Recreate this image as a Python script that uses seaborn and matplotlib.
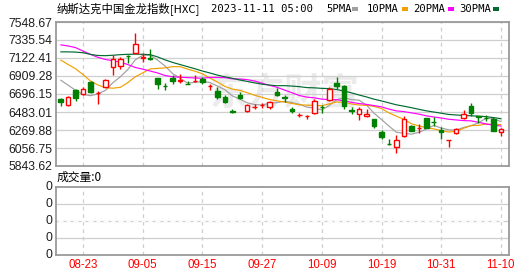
import numpy as np
import pandas as pd
import matplotlib
matplotlib.use("Agg")
import matplotlib.pyplot as plt
from matplotlib.patches import Rectangle
import seaborn as sns

# ---------------- data ----------------
dates = ["08-18", "08-21", "08-22", "08-23", "08-24", "08-25", "08-28", "08-29", "08-30", "08-31",
         "09-01", "09-05", "09-06", "09-07", "09-08", "09-11", "09-12", "09-13", "09-14", "09-15",
         "09-18", "09-19", "09-20", "09-21", "09-22", "09-25", "09-26", "09-27", "09-28", "09-29",
         "10-02", "10-03", "10-04", "10-05", "10-06", "10-09", "10-10", "10-11", "10-12", "10-13",
         "10-16", "10-17", "10-18", "10-19", "10-20", "10-23", "10-24", "10-25", "10-26", "10-27",
         "10-30", "10-31", "11-01", "11-02", "11-03", "11-06", "11-07", "11-08", "11-09", "11-10"]

opens = [6637, 6562, 6740, 6693, 6835, 6705, 6783, 7012, 7028, 7150,
         7185, 7126, 7126, 6886, 6790, 6886, 6846, 6820, 6850, 6874,
         6785, 6735, 6657, 6489, 6684, 6495, 6544, 6567, 6539, 6716,
         6657, 6522, 6446, 6434, 6468, 6548, 6625, 6830, 6791, 6501,
         6463, 6436, 6400, 6246, 6110, 6072, 6199, 6317, 6295, 6409,
         6367, 6270, 6146, 6234, 6412, 6554, 6430, 6414, 6397, 6243]
highs = [6643, 6672, 6752, 6783, 6854, 6732, 6874, 7158, 7138, 7162,
         7415, 7185, 7225, 6886, 6823, 6918, 6933, 6854, 6921, 6898,
         6818, 6776, 6684, 6515, 6720, 6581, 6574, 6593, 6617, 6771,
         6684, 6539, 6475, 6444, 6633, 6566, 6783, 6901, 6804, 6546,
         6539, 6515, 6400, 6270, 6160, 6211, 6436, 6329, 6337, 6416,
         6420, 6309, 6149, 6297, 6503, 6586, 6436, 6448, 6420, 6297]
lows = [6558, 6554, 6617, 6681, 6705, 6578, 6776, 6925, 6996, 7060,
        7178, 7079, 7102, 6755, 6740, 6818, 6830, 6811, 6835, 6815,
        6744, 6637, 6586, 6468, 6633, 6480, 6519, 6530, 6522, 6672,
        6601, 6475, 6420, 6400, 6460, 6475, 6617, 6755, 6519, 6460,
        6389, 6420, 6297, 6167, 6092, 6001, 6190, 6262, 6231, 6290,
        6321, 6167, 6072, 6222, 6400, 6436, 6356, 6380, 6262, 6199]
closes = [6605, 6657, 6652, 6752, 6716, 6712, 6862, 7107, 7107, 7143,
          7288, 7131, 7107, 6818, 6785, 6850, 6862, 6816, 6855, 6838,
          6790, 6657, 6598, 6485, 6652, 6570, 6548, 6571, 6598, 6681,
          6645, 6491, 6449, 6437, 6617, 6544, 6755, 6791, 6558, 6497,
          6515, 6456, 6317, 6187, 6105, 6148, 6397, 6262, 6299, 6297,
          6363, 6250, 6149, 6282, 6456, 6468, 6426, 6410, 6262, 6282]

ma5 = [6860, 6800, 6740, 6690, 6676, 6698, 6739, 6830, 6901, 6986,
       7101, 7155, 7155, 7097, 7026, 6938, 6884, 6826, 6834, 6844,
       6832, 6791, 6748, 6674, 6636, 6592, 6571, 6565, 6588, 6594,
       6609, 6597, 6573, 6541, 6528, 6508, 6560, 6629, 6653, 6629,
       6623, 6563, 6469, 6394, 6316, 6243, 6231, 6220, 6242, 6281,
       6324, 6294, 6272, 6268, 6300, 6321, 6356, 6408, 6404, 6370]
ma10 = [7099, 7045, 6995, 6925, 6850, 6803, 6770, 6765, 6775, 6831,
        6900, 6947, 6993, 6999, 7006, 7020, 7020, 6991, 6966, 6935,
        6885, 6838, 6787, 6754, 6740, 6712, 6681, 6656, 6631, 6615,
        6601, 6584, 6569, 6564, 6561, 6558, 6579, 6601, 6597, 6578,
        6565, 6562, 6549, 6524, 6473, 6433, 6397, 6344, 6318, 6298,
        6283, 6263, 6246, 6255, 6290, 6322, 6325, 6340, 6336, 6335]
ma20 = [7278, 7265, 7245, 7205, 7165, 7130, 7105, 7090, 7072, 7045,
        7010, 6990, 6968, 6945, 6915, 6900, 6895, 6890, 6886, 6883,
        6892, 6892, 6890, 6876, 6873, 6866, 6850, 6824, 6798, 6775,
        6743, 6711, 6678, 6659, 6651, 6635, 6630, 6629, 6614, 6597,
        6583, 6573, 6559, 6544, 6517, 6496, 6488, 6473, 6458, 6438,
        6424, 6412, 6397, 6389, 6381, 6378, 6361, 6342, 6327, 6317]
ma30 = [7195, 7195, 7192, 7185, 7165, 7152, 7150, 7155, 7162, 7166,
        7168, 7166, 7162, 7135, 7100, 7070, 7045, 7020, 6995, 6968,
        6945, 6920, 6900, 6882, 6862, 6845, 6828, 6812, 6802, 6794,
        6795, 6790, 6783, 6772, 6769, 6763, 6760, 6749, 6731, 6709,
        6684, 6661, 6635, 6614, 6591, 6568, 6552, 6534, 6515, 6497,
        6483, 6469, 6454, 6448, 6441, 6438, 6434, 6428, 6417, 6404]

volumes = [0] * 60

tick_dates = ["08-23", "09-05", "09-15", "09-27", "10-09", "10-19", "10-31", "11-10"]
price_ticks = [5843.62, 6056.75, 6269.88, 6483.01, 6696.15, 6909.28, 7122.41, 7335.54, 7548.67]
price_labels = ["5843.62", "6056.75", "6269.88", "6483.01", "6696.15", "6909.28",
                "7122.41", "7335.54", "7548.67"]
vol_ticks = [0, 1, 2, 3, 4]
vol_labels = ["0", "0", "0", "0", "0"]
ma_names = ["5PMA", "10PMA", "20PMA", "30PMA"]
title_text = "纳斯达克中国金龙指数[HXC]"
time_text = "2023-11-11 05:00"
vol_text = "成交量:0"
watermark = "东方财富"

# ---------------- style ----------------
sns.set_theme(style="white")
plt.rcParams["font.family"] = ["Liberation Sans", "DejaVu Sans"]

RED = "#ff0000"
GREEN = "#008000"
GRID = "#cfcfcf"
BORDER = "#9a9a9a"
TXT = "#1e1e1e"
MA_COLORS = {"5PMA": "#a0a0a0", "10PMA": "#f0a000", "20PMA": "#ff00ff", "30PMA": "#006a30"}
CJK = ["Noto Sans CJK SC", "DejaVu Sans"]

W, H = 530, 276
fig = plt.figure(figsize=(W / 100, H / 100), dpi=100)
fig.patch.set_facecolor("white")


def fx(px):
    return px / W


def fy(py):
    return 1 - py / H


L, R = 55.7, 509.3
ax = fig.add_axes([fx(L), fy(166), fx(R) - fx(L), fy(22) - fy(166)])
axv = fig.add_axes([fx(L), fy(255), fx(R) - fx(L), fy(186.7) - fy(255)])

n = len(dates)
x = np.arange(n)
tick_pos = [dates.index(d) for d in tick_dates]

df = pd.DataFrame({"x": x, "o": opens, "h": highs, "l": lows, "c": closes})
up = (df["c"] >= df["o"]).to_numpy()
col = np.where(up, RED, GREEN)
blo = np.minimum(df["o"], df["c"]).to_numpy()
bhi = np.maximum(df["o"], df["c"]).to_numpy()

# watermark
ax.text(0.505, 0.5, watermark, transform=ax.transAxes, ha="center", va="center",
        fontsize=27, color="#ebebeb", fontweight="bold", style="italic",
        family=CJK, zorder=0.5, clip_on=True)

# MA lines via seaborn
ma_long = pd.DataFrame({"x": x, "5PMA": ma5, "10PMA": ma10, "20PMA": ma20, "30PMA": ma30}) \
    .melt(id_vars="x", var_name="ma", value_name="v")
sns.lineplot(data=ma_long, x="x", y="v", hue="ma", hue_order=ma_names,
             palette=MA_COLORS, ax=ax, legend=False, linewidth=0.85, zorder=2)

# candles
ax.vlines(x, df["l"], blo, colors=col, linewidth=1.0, zorder=3)
ax.vlines(x, bhi, df["h"], colors=col, linewidth=1.0, zorder=3)
ax.bar(x, bhi - blo, bottom=blo, width=0.6, color=np.where(up, "white", GREEN),
       edgecolor=col, linewidth=1.0, zorder=4)

ax.set_xlim(-0.67, 60.13)
ax.set_ylim(price_ticks[0], price_ticks[-1])
ax.set_yticks(price_ticks, labels=price_labels)
ax.set_xticks(tick_pos)
ax.tick_params(axis="x", labelbottom=False, length=0)
ax.tick_params(axis="y", length=0, pad=2.2, labelsize=8.8, labelcolor=TXT, labelleft=True)
ax.grid(axis="y", color=GRID, linewidth=0.9, linestyle="-")
ax.grid(axis="x", color=GRID, linewidth=0.9, linestyle=(0, (3, 3)))
ax.set_xlabel("")
ax.set_ylabel("")
ax.set_axisbelow(True)

# volume panel (all zero volumes)
axv.bar(x, volumes, width=0.6, color=RED)
axv.set_xlim(-0.67, 60.13)
axv.set_xticks(tick_pos, labels=tick_dates)
axv.tick_params(axis="x", length=0, pad=3.2, labelsize=8.3, labelcolor=RED, labelbottom=True)
axv.grid(axis="x", color=GRID, linewidth=0.9, linestyle=(0, (3, 3)))
axv.set_yticks([])
axv.set_xlabel("")
axv.set_ylabel("")
axv.set_axisbelow(True)
# volume scale levels, placed in axes fraction (the volume scale is degenerate: all zeros)
nlev = len(vol_ticks) - 1
for t, lab in zip(vol_ticks, vol_labels):
    f = t / nlev
    if 0 < f < 1:
        axv.plot([0, 1], [f, f], transform=axv.transAxes, color=GRID, linewidth=0.9,
                 zorder=0.6)
    axv.text(-0.0066, f, lab, transform=axv.transAxes, ha="right", va="center",
             fontsize=8.8, color=TXT, clip_on=False)

for a in (ax, axv):
    for s in a.spines.values():
        s.set_visible(True)
        s.set_color(BORDER)
        s.set_linewidth(1.3)

# header texts
fig.text(fx(57), fy(9.5), title_text, ha="left", va="center", fontsize=8.2,
         color="black", family=CJK)
fig.text(fx(210.7), fy(9.5), time_text, ha="left", va="center", fontsize=7.6,
         color="black", family=["DejaVu Sans Mono"])
leg_text_x = [326, 367, 413, 459]
leg_box_x = [352, 402, 448, 493]
for name, tx, bx in zip(ma_names, leg_text_x, leg_box_x):
    fig.text(fx(tx), fy(9.5), name, ha="left", va="center", fontsize=7.6,
             color="black", family=["DejaVu Sans Mono"])
    fig.add_artist(Rectangle((fx(bx), fy(10.7)), 6 / W, 3.8 / H,
                             transform=fig.transFigure, facecolor=MA_COLORS[name],
                             edgecolor="none"))

fig.text(fx(57), fy(177.5), vol_text, ha="left", va="center", fontsize=8.5,
         color="black", family=CJK)

fig.savefig("out.png", dpi=100, facecolor="white")
